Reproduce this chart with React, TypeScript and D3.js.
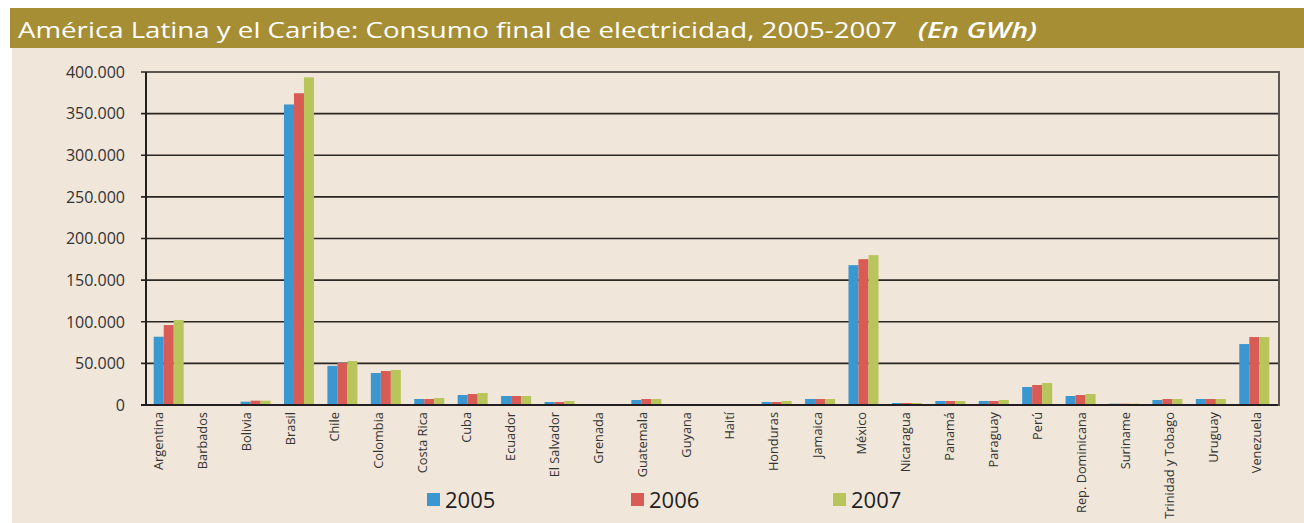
import React from "react";
import * as d3 from "d3";

const categories = [
  "Argentina", "Barbados", "Bolivia", "Brasil", "Chile", "Colombia", "Costa Rica", "Cuba",
  "Ecuador", "El Salvador", "Grenada", "Guatemala", "Guyana", "Haití", "Honduras", "Jamaica",
  "México", "Nicaragua", "Panamá", "Paraguay", "Perú", "Rep. Dominicana", "Suriname",
  "Trinidad y Tobago", "Uruguay", "Venezuela",
];
const seriesNames = ["2005", "2006", "2007"];
const v2005 = [82000, 0, 4000, 361000, 47000, 38400, 7200, 12000, 10800, 3600, 0, 6000, 0, 0, 3600, 7200, 168000, 2400, 4800, 4800, 21600, 10800, 1600, 6000, 7200, 73200];
const v2006 = [96000, 0, 5200, 374500, 50400, 40800, 7200, 13200, 10800, 3600, 0, 7200, 0, 0, 3600, 7200, 175200, 2400, 4800, 4800, 24000, 12000, 1600, 7200, 7200, 81600];
const v2007 = [102000, 0, 5200, 393600, 52800, 42000, 8400, 14400, 10800, 4800, 0, 7200, 0, 0, 4800, 7200, 180000, 2400, 4800, 6000, 26400, 13200, 1600, 7200, 7200, 81600];
const yTicks = [0, 50000, 100000, 150000, 200000, 250000, 300000, 350000, 400000];
const colors = ["#3a97cf", "#d95b55", "#b8c55b"];

const fmt = (v: number) => (v === 0 ? "0" : d3.format(",")(v).replace(/,/g, "."));

export default function App() {
  const W = 1304, H = 523;
  const plotL = 146, plotR = 1279, plotT = 72, plotB = 405;
  const y = d3.scaleLinear().domain([0, 400000]).range([plotB, plotT]);
  const xb = d3.scaleBand<string>().domain(categories).range([147, 1276]);
  const groupW = 30;
  const x1 = d3.scaleBand<string>().domain(seriesNames).range([0, groupW]);
  const xl = d3.scalePoint<string>().domain(categories).range([159, 1257]);
  const series = [v2005, v2006, v2007];
  const legendX = [427, 631, 833];
  const font = "'Open Sans', 'Noto Sans', sans-serif";

  return (
    <div style={{ position: "absolute", left: 0, top: 0 }}>
      <svg width={W} height={H} style={{ display: "block" }}>
        <rect x={0} y={0} width={W} height={H} fill="#ffffff" />
        <rect x={10} y={8} width={W - 10} height={40} fill="#a68e35" />
        <rect x={12} y={48} width={W - 12} height={H - 48} fill="#f0e6d9" />
        <text x={18} y={38} fill="#ffffff" fontFamily={font} fontSize={22} fontWeight={500}
          textLength={879} lengthAdjust="spacingAndGlyphs">
          América Latina y el Caribe: Consumo final de electricidad, 2005-2007
        </text>
        <text x={918} y={38} fill="#ffffff" fontFamily={font} fontSize={22} fontWeight={600}
          fontStyle="italic" textLength={119} lengthAdjust="spacingAndGlyphs">
          (En GWh)
        </text>

        {/* gridlines */}
        {yTicks.map((t) => (
          <g key={t}>
            <line x1={141} x2={plotR} y1={y(t)} y2={y(t)} stroke="#2a2625" strokeWidth={1.6} />
            <text x={125} y={y(t)} dy="0.36em" textAnchor="end" fontFamily={font} fontSize={16}
              fill="#333">{fmt(t)}</text>
          </g>
        ))}

        {/* bars */}
        {categories.map((c, i) => (
          <g key={c} transform={`translate(${(xb(c) as number) + (xb.bandwidth() - groupW) / 2},0)`}>
            {series.map((s, k) => (
              s[i] > 0 ? (
                <rect key={k} x={x1(seriesNames[k]) as number} width={x1.bandwidth()}
                  y={y(s[i])} height={plotB - y(s[i])} fill={colors[k]} />
              ) : null
            ))}
          </g>
        ))}

        {/* axes */}
        <line x1={141} x2={plotR} y1={plotB} y2={plotB} stroke="#231f20" strokeWidth={2} />
        <line x1={plotL} x2={plotL} y1={plotT} y2={plotB} stroke="#231f20" strokeWidth={2} />
        <line x1={plotR} x2={plotR} y1={plotT - 1} y2={plotB + 1} stroke="#5e5853" strokeWidth={2} />

        {/* category labels */}
        {categories.map((c) => {
          const px = xl(c) as number;
          return (
            <text key={c} x={px} y={412} dy="0.35em" textAnchor="end"
              transform={`rotate(-90, ${px}, 412)`} fontFamily={font} fontSize={12.8} fill="#333">
              {c}
            </text>
          );
        })}

        {/* legend */}
        {seriesNames.map((n, k) => (
          <g key={n}>
            <rect x={legendX[k]} y={493} width={13} height={13} fill={colors[k]} />
            <text x={legendX[k] + 18} y={508} fontFamily={font} fontSize={22} fill="#231f20">{n}</text>
          </g>
        ))}
      </svg>
    </div>
  );
}
